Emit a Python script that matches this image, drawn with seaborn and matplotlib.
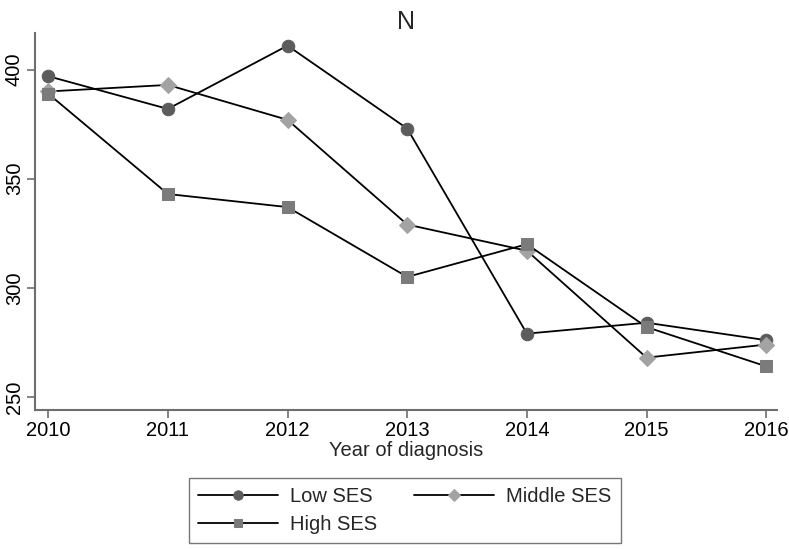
import matplotlib
matplotlib.use("Agg")
import matplotlib.pyplot as plt
import numpy as np
import pandas as pd
import seaborn as sns

years = [2010, 2011, 2012, 2013, 2014, 2015, 2016]
low_ses = [397, 382, 411, 373, 279, 284, 276]
middle_ses = [390, 393, 377, 329, 317, 268, 274]
high_ses = [389, 343, 337, 305, 320, 282, 264]
y_ticks = [250, 300, 350, 400]

sns.set_style("white")
plt.rcParams["font.family"] = ["Liberation Sans", "DejaVu Sans"]

fig = plt.figure(figsize=(7.89, 5.49), dpi=100)
ax = fig.add_axes([0.0444, 0.2532, 0.9404, 0.6867])

series = [
    ("Low SES", low_ses, "o", "#5c5c5c", 9.0),
    ("Middle SES", middle_ses, "D", "#a3a3a3", 8.0),
    ("High SES", high_ses, "s", "#7b7b7b", 8.5),
]
for name, vals, mk, col, ms in series:
    sns.lineplot(
        x=years, y=vals, ax=ax, color="black", linewidth=1.3,
        marker=mk, markersize=ms, markerfacecolor=col, markeredgecolor=col,
        label=name,
    )

ax.set_xlim(2009.89, 2016.09)
ax.set_ylim(244, 416.8)
ax.set_xticks(years)
ax.set_yticks(y_ticks)
ax.set_yticklabels([str(t) for t in y_ticks], rotation=90, va="center")
ax.tick_params(axis="both", direction="out", length=6, width=1.2, color="#6e6e6e",
               labelsize=14.5, labelcolor="black", left=True, bottom=True)
ax.tick_params(axis="y", pad=2)
ax.tick_params(axis="x", pad=2)
for side in ["top", "right"]:
    ax.spines[side].set_visible(False)
for side in ["left", "bottom"]:
    ax.spines[side].set_color("#6e6e6e")
    ax.spines[side].set_linewidth(1.5)

ax.set_xlabel("Year of diagnosis", fontsize=14.5, labelpad=1)
ax.set_ylabel("")
ax.set_title("N", fontsize=18, pad=3)

handles, labels = ax.get_legend_handles_labels()
ax.get_legend().remove()
order = [0, 2, 1]
leg = fig.legend(
    [handles[i] for i in order], [labels[i] for i in order],
    loc="upper center", bbox_to_anchor=(0.513, 0.1293), ncol=2,
    fontsize=14.5, handlelength=4.0, handletextpad=0.6, columnspacing=1.8,
    labelspacing=0.45, frameon=True, fancybox=False, borderpad=0.45,
    borderaxespad=0, markerscale=0.75,
)
leg.get_frame().set_edgecolor("#555555")
leg.get_frame().set_linewidth(1.0)

fig.savefig("out.png", dpi=100)
